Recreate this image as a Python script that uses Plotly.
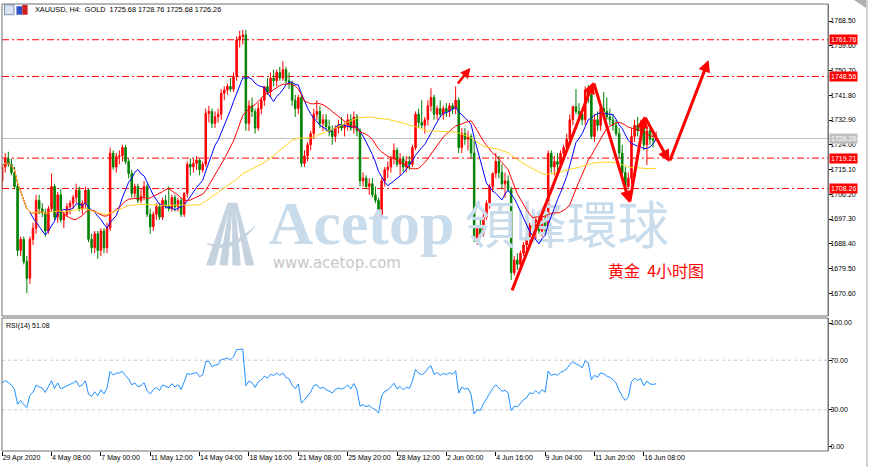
import plotly.graph_objects as go
import pandas as pd

# ---------------- data (XAUUSD H4) ----------------
open_ = [1711,1716,1719,1717,1714,1709,1686,1690,1682,1676,
         1690,1694,1704,1701,1699.5,1693,1701,1709,1698,1706,
         1697,1699,1701.7,1703,1705,1707.7,1701,1703,1707.7,1690,
         1687,1692,1686,1693,1687,1694,1721,1716,1719.7,1720,
         1723,1718,1713.7,1706.5,1709,1704,1705.5,1709,1699,1694.5,
         1699,1701.7,1698,1704,1702,1701,1705,1701.7,1704,1699,
         1706.5,1717,1716,1717.3,1718.5,1715,1717,1735.3,1736,1731.7,
         1734.1,1735,1742.5,1743.7,1745,1744,1748.5,1761.7,1762.9,1763.5,
         1731.7,1738,1736,1730,1737,1740,1744.9,1743,1748,1747,
         1750,1748,1751,1747,1746,1740,1737,1741,1717.3,1720,
         1724,1728,1735,1736,1731.7,1733,1730.5,1729,1727,1730,
         1731,1730,1731,1733,1730,1734,1729,1711,1712,1709,
         1710,1706,1704,1699,1711,1715,1716,1719,1722,1717,
         1719,1716,1718,1717,1723,1735,1732,1731,1733,1738,
         1741,1735,1737,1735,1737,1736,1738,1737,1740,1723,
         1728,1726,1727,1721,1690,1694,1692,1698,1703,1709,
         1713.7,1718,1714,1710,1711,1708,1678,1682.6,1681,1685,
         1688,1690,1695,1694,1697,1693,1697,1694,1720.9,1716,
         1718,1717,1720.9,1723,1726,1733,1737.7,1736,1735,1733,
         1743.7,1742,1727,1733,1731,1737,1736,1734,1733,1731,
         1728,1721,1714,1709,1712,1727,1731,1729,1731,1724,
         1729,1726,1725.68]
high = [1717,1721,1721.5,1719,1716,1710,1691,1691,1684,1691,
        1696,1706,1706,1703,1701,1702,1713.7,1710,1707,1708,
        1700,1703,1704,1706,1710,1709,1704,1709,1708,1692,
        1693,1693,1694,1694,1696,1723,1722,1721,1722,1724,
        1724,1719,1715,1710,1710,1708,1711,1710,1701,1700,
        1703,1703,1705,1706,1709,1706,1706,1705,1705,1707,
        1718,1719,1719,1720,1719,1718,1737,1738,1737,1736,
        1737,1744,1745,1746,1748,1750,1763,1765,1765.3,1765.3,
        1740,1741,1737,1739,1741,1745,1748,1750,1751,1751,
        1752,1754,1752,1750,1747,1742,1742,1742,1722,1725,
        1729,1737,1740,1738,1735,1735,1733,1731,1731,1733,
        1734,1732,1735,1735,1736,1735,1730,1714,1713,1712,
        1712,1709,1705,1712,1716,1718,1720,1724.5,1723,1721,
        1720,1720,1720,1724,1736,1737,1740,1734,1740,1744.3,
        1742,1738,1740,1738,1739,1739,1739,1745,1741,1730,
        1730,1729,1728,1726,1695,1698,1700,1704,1710,1714,
        1721,1720,1717,1714,1713,1709,1684,1685,1686,1689,
        1691,1696,1699,1698,1699,1698,1699,1722,1722,1720,
        1721,1722,1724,1728,1735,1738,1744,1739,1737,1745,
        1745.5,1743,1735,1736,1738,1743,1741,1737,1735,1733,
        1730,1724,1716,1714,1730,1733,1734,1733,1733,1730,
        1731,1729,1728.76]
low = [1708,1714,1716,1713,1708,1684,1684,1681,1670.6,1674,
       1688,1692,1699,1698,1691,1692,1700,1697,1696,1696,
       1694,1698,1699,1701,1703,1700,1699,1701,1689,1685,
       1685,1683,1684,1685,1685,1693,1715,1714,1717,1718,
       1717,1712,1705,1705,1703,1703,1704,1698,1692,1693,
       1697,1697,1697,1701,1700,1700,1700,1700,1698,1698,
       1705,1713,1714,1715,1713,1714,1716,1732,1730,1730,
       1732,1733,1740,1742,1743,1743,1747,1759,1760,1729,
       1729,1734,1728,1729,1735,1738,1742,1741,1745,1745,
       1747,1747,1746,1744,1738,1734,1735,1716,1716,1718,
       1722,1726,1733,1730,1729,1729,1727,1724,1725,1728,
       1729,1727,1729,1729,1728,1727,1709,1709,1708,1706,
       1705,1703,1694,1698,1709,1712,1714,1717,1716,1713,
       1714,1714,1715,1716,1722,1730,1730,1728,1731,1736,
       1733,1733,1734,1733,1734,1734,1735,1735,1721,1721,
       1724,1722,1719,1689,1688,1691,1691,1697,1701,1707,
       1712,1712,1708,1705,1707,1675.4,1677,1679,1680,1684,
       1686,1689,1692,1690,1692,1691,1692,1693,1714,1713,
       1714,1715,1719,1721,1724,1731,1735,1733,1731,1731,
       1739,1726,1725,1729,1729,1734,1733,1731,1729,1727,
       1719,1712,1706.5,1708,1710,1725,1727,1726,1722,1716.7,
       1724,1723,1725.68]
close = [1716,1719,1717,1714,1709,1686,1690,1682,1676,1690,
         1694,1704,1701,1699.5,1693,1701,1709,1698,1706,1697,
         1699,1701.7,1703,1705,1707.7,1701,1703,1707.7,1690,1687,
         1692,1686,1693,1687,1694,1721,1716,1719.7,1720,1723,
         1718,1713.7,1706.5,1709,1704,1705.5,1709,1699,1694.5,1699,
         1701.7,1698,1704,1702,1701,1705,1701.7,1704,1699,1706.5,
         1717,1716,1717.3,1718.5,1715,1717,1735.3,1736,1731.7,1734.1,
         1735,1742.5,1743.7,1745,1744,1748.5,1761.7,1762.9,1763.5,1731.7,
         1738,1736,1730,1737,1740,1744.9,1743,1748,1747,1750,
         1748,1751,1747,1746,1740,1737,1741,1717.3,1720,1724,
         1728,1735,1736,1731.7,1733,1730.5,1729,1727,1730,1731,
         1730,1731,1733,1730,1734,1729,1711,1712,1709,1710,
         1706,1704,1699,1711,1715,1716,1719,1722,1717,1719,
         1716,1718,1717,1723,1735,1732,1731,1733,1738,1741,
         1735,1737,1735,1737,1736,1738,1737,1740,1723,1728,
         1726,1727,1721,1690,1694,1692,1698,1703,1709,1713.7,
         1718,1714,1710,1711,1708,1678,1682.6,1681,1685,1688,
         1690,1695,1694,1697,1693,1697,1694,1720.9,1716,1718,
         1717,1720.9,1723,1726,1733,1737.7,1736,1735,1733,1743.7,
         1742,1727,1733,1731,1737,1736,1734,1733,1731,1728,
         1721,1714,1709,1712,1727,1731,1729,1731,1724,1729,
         1726,1725.68,1726.26]

tick_idx = [0, 16, 32, 48, 64, 80, 96, 112, 128, 144, 160, 176, 192, 208]
tick_text = ["29 Apr 2020", "4 May 08:00", "7 May 00:00", "11 May 12:00",
             "14 May 04:00", "18 May 16:00", "21 May 08:00", "25 May 20:00",
             "28 May 12:00", "2 Jun 00:00", "4 Jun 16:00", "9 Jun 04:00",
             "11 Jun 20:00", "16 Jun 08:00"]
price_ticks = [1768.50, 1759.60, 1750.70, 1741.80, 1732.90, 1724.00,
               1715.10, 1706.20, 1697.30, 1688.40, 1679.50, 1670.60]
rsi_ticks = [0, 30, 70, 100]
rsi_levels = [30, 70]
levels = [1761.76, 1748.56, 1719.21, 1708.26]
last_price = 1726.26
zig_bar = [165.1, 191.7, 203.4, 208.2, 216.3, 229.0]
zig_price = [1671.1, 1746.6, 1703.1, 1734.3, 1717.8, 1754.5]
small_arrow_bar = [147.3, 151.8]
small_arrow_price = [1745.5, 1751.6]
ma_periods = [10, 20, 60]
ma_colors = ["#0000FF", "#FF0000", "#FFD21F"]
rsi_period = 14
rsi_seed = (3.2, 3.0)   # average gain / loss carried in from bars before the window
header = "XAUUSD, H4:  GOLD  1725.68 1728.76 1725.68 1726.26"

# ---------------- derived indicators ----------------
bars = list(range(len(close)))
s = pd.Series(close, dtype=float)
mas = [s.rolling(p, min_periods=1).mean() for p in ma_periods]
ag, al = rsi_seed
rsi = []
for i in range(len(close)):
    ch = close[i] - close[i - 1] if i else 0.0
    ag = (ag * (rsi_period - 1) + max(ch, 0.0)) / rsi_period
    al = (al * (rsi_period - 1) + max(-ch, 0.0)) / rsi_period
    rsi.append(100 - 100 / (1 + ag / al))

# ---------------- geometry ----------------
X0, X1 = -0.05, 267.7
Y_MAIN = [1662.44, 1774.61]
Y_RSI = [-3.23, 104.03]
MAIN_DOM = [0.302, 1.0]
RSI_DOM = [0.0, 0.2975]
FONT = "Liberation Sans"

fig = go.Figure()

# watermark (drawn first so candles sit on top)
wm = "#C9DCEC"
fig.add_trace(go.Scatter(x=[116.5], y=[1694.0], mode="text", text=["Acetop"],
                         textfont=dict(family="Liberation Serif", size=62, color=wm, weight="bold"),
                         xaxis="x2", yaxis="y", hoverinfo="skip", showlegend=False))
fig.add_trace(go.Scatter(x=[183.0], y=[1693.0], mode="text", text=["領峰環球"],
                         textfont=dict(family="Noto Sans CJK TC", size=51, color=wm),
                         xaxis="x2", yaxis="y", hoverinfo="skip", showlegend=False))
fig.add_trace(go.Scatter(x=[108.5], y=[1681.1], mode="text", text=["www.acetop.com"],
                         textfont=dict(family="DejaVu Sans", size=15, color="#C8C8C8"),
                         xaxis="x2", yaxis="y", hoverinfo="skip", showlegend=False))

fig.add_trace(go.Candlestick(
    x=bars, open=open_, high=high, low=low, close=close,
    xaxis="x2", yaxis="y", whiskerwidth=0,
    increasing=dict(line=dict(color="#FF0000", width=1), fillcolor="#FF0000"),
    decreasing=dict(line=dict(color="#008000", width=1), fillcolor="#008000"),
    hoverinfo="skip", showlegend=False))

for m, c in zip(mas, ma_colors):
    fig.add_trace(go.Scatter(x=bars, y=m, mode="lines", line=dict(color=c, width=1),
                             xaxis="x2", yaxis="y", hoverinfo="skip", showlegend=False))

fig.add_trace(go.Scatter(x=bars, y=rsi, mode="lines", line=dict(color="#1E90FF", width=1),
                         xaxis="x", yaxis="y2", hoverinfo="skip", showlegend=False))

shapes = []
for lv in levels:
    shapes.append(dict(type="line", xref="paper", yref="y", x0=0, x1=1, y0=lv, y1=lv,
                       line=dict(color="#FF0000", width=1, dash="7px,3px,2px,3px"), layer="below"))
shapes.append(dict(type="line", xref="paper", yref="y", x0=0, x1=1, y0=last_price, y1=last_price,
                   line=dict(color="#C0C0C0", width=1), layer="below"))
for lv in rsi_levels:
    shapes.append(dict(type="line", xref="paper", yref="y2", x0=0, x1=1, y0=lv, y1=lv,
                       line=dict(color="#C8C8C8", width=1, dash="3px,3px"), layer="below"))
for dom in (MAIN_DOM, RSI_DOM):
    shapes.append(dict(type="rect", xref="paper", yref="paper", x0=0, x1=1, y0=dom[0], y1=dom[1],
                       line=dict(color="#6E6E6E", width=1)))
shapes.append(dict(type="line", xref="paper", yref="paper", x0=1.0472, x1=1.0472, y0=-0.04, y1=1.01,
                   line=dict(color="#A0A0A0", width=1)))
shapes.append(dict(type="path", xref="paper", yref="paper",
                   path="M 1.0315 1.009 L 1.046 1.009 L 1.046 0.991 Z",
                   fillcolor="#B0B0B0", line=dict(width=0)))
shapes.append(dict(type="rect", xref="paper", yref="paper", x0=0.003, x1=0.0145, y0=0.976, y1=0.998,
                   fillcolor="#D8E4F2", line=dict(color="#7A8FB0", width=1)))
shapes.append(dict(type="rect", xref="paper", yref="paper", x0=0.0175, x1=0.0245, y0=0.976, y1=0.995,
                   fillcolor="#3050C8", line=dict(width=0)))
shapes.append(dict(type="rect", xref="paper", yref="paper", x0=0.0245, x1=0.031, y0=0.976, y1=0.998,
                   fillcolor="#D02020", line=dict(width=0)))
# logo: converging stripes + swoosh
logo = "#C5D2E0"
for p in ["M 66.3 1680.8 L 73.2 1703.0 L 73.9 1703.0 L 68.9 1680.8 Z",
          "M 70.6 1680.8 L 74.0 1703.0 L 74.6 1703.0 L 73.0 1680.8 Z",
          "M 74.8 1680.8 L 74.7 1703.0 L 75.3 1703.0 L 77.2 1680.8 Z",
          "M 79.0 1680.8 L 75.4 1703.0 L 76.0 1703.0 L 81.6 1680.8 Z",
          "M 66.5 1688.5 Q 74 1683.5 82 1694.8 Q 74 1686.0 66.5 1688.5 Z"]:
    shapes.append(dict(type="path", xref="x2", yref="y", path=p, fillcolor=logo,
                       line=dict(color=logo, width=1), layer="below"))

annotations = []
tf = dict(family=FONT, size=7, color="#000000")
for lv in levels:
    annotations.append(dict(x=1, xref="paper", y=lv, yref="y", xanchor="left", yanchor="middle",
                            xshift=1, text=f"{lv:.2f}", showarrow=False, bgcolor="#FF0000",
                            borderpad=1, font=dict(family=FONT, size=7, color="#FFFFFF")))
annotations.append(dict(x=1, xref="paper", y=last_price, yref="y", xanchor="left", yanchor="middle",
                        xshift=1, text=f"{last_price:.2f}", showarrow=False, bgcolor="#C0C0C0",
                        borderpad=1, font=dict(family=FONT, size=7, color="#FFFFFF")))
annotations.append(dict(x=0.0375, xref="paper", y=0.9866, yref="paper", xanchor="left", yanchor="middle",
                        text=header, showarrow=False, font=dict(family=FONT, size=7.3, color="#000000")))
annotations.append(dict(x=0.0024, xref="paper", y=0.2796, yref="paper", xanchor="left", yanchor="middle",
                        text="RSI(14) 51.08", showarrow=False, font=tf))
annotations.append(dict(x=0.7918, xref="paper", y=0.405, yref="paper", xanchor="center", yanchor="middle",
                        text="黄金  4小时图", showarrow=False,
                        font=dict(family="Noto Sans CJK SC", size=16, color="#FF0000")))
for i in range(1, len(zig_bar)):
    annotations.append(dict(x=zig_bar[i], y=zig_price[i], xref="x2", yref="y",
                            ax=zig_bar[i-1], ay=zig_price[i-1], axref="x2", ayref="y",
                            text="", showarrow=True, arrowhead=2, arrowsize=0.8, arrowwidth=3,
                            arrowcolor="#FF0000", standoff=0))
annotations.append(dict(x=small_arrow_bar[1], y=small_arrow_price[1], xref="x2", yref="y",
                        ax=small_arrow_bar[0], ay=small_arrow_price[0], axref="x2", ayref="y",
                        text="", showarrow=True, arrowhead=2, arrowsize=0.8, arrowwidth=2.5,
                        arrowcolor="#FF0000", standoff=0))

axis_common = dict(showgrid=False, zeroline=False)
fig.update_layout(
    width=870, height=467, margin=dict(l=2, r=42, t=4, b=16, autoexpand=False),
    paper_bgcolor="white", plot_bgcolor="white", showlegend=False,
    xaxis=dict(domain=[0, 1], anchor="y2", range=[X0, X1], tickmode="array",
               tickvals=tick_idx, ticktext=tick_text, ticks="outside", ticklen=4,
               tickcolor="#000000", tickfont=tf, tickangle=0, automargin=False,
               ticklabelposition="outside right", showline=False, **axis_common),
    xaxis2=dict(domain=[0, 1], anchor="y", matches="x", showticklabels=False,
                rangeslider=dict(visible=False), showline=False, **axis_common),
    yaxis=dict(domain=MAIN_DOM, anchor="x2", side="right", range=Y_MAIN, tickmode="array",
               tickvals=price_ticks, ticktext=[f"{v:.2f}" for v in price_ticks],
               ticks="outside", ticklen=3, tickcolor="#000000", tickfont=tf, automargin=False,
               ticklabelstandoff=-3, showline=True, linecolor="#808080", **axis_common),
    yaxis2=dict(domain=RSI_DOM, anchor="x", side="right", range=Y_RSI, tickmode="array",
                tickvals=rsi_ticks, ticktext=[f"{v:.2f}" for v in rsi_ticks],
                ticks="outside", ticklen=3, tickcolor="#000000", tickfont=tf, automargin=False,
                ticklabelstandoff=-3, showline=True, linecolor="#808080", **axis_common),
    shapes=shapes, annotations=annotations,
)

fig.write_html("out.html", config={"displayModeBar": False},
               post_script="document.body.style.margin='0';")
